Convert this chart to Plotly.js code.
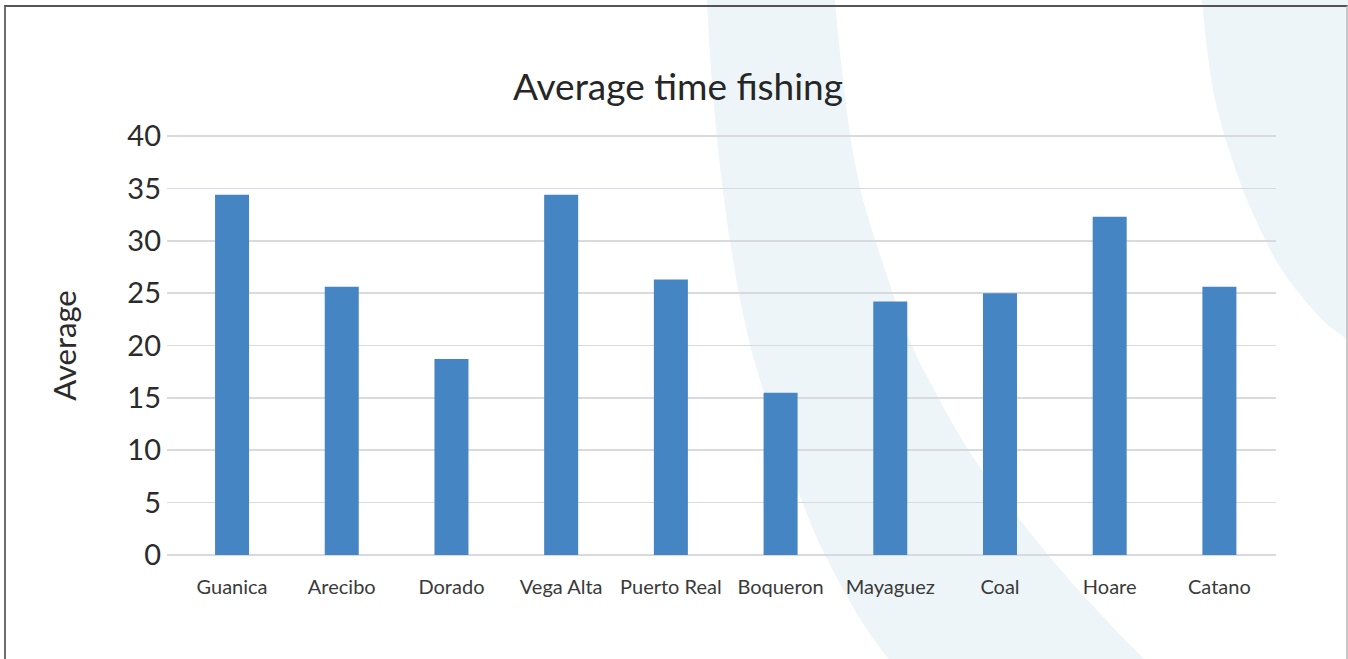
<!DOCTYPE html>
<html>
<head>
<meta charset="utf-8">
<script src="https://cdn.plot.ly/plotly-3.0.1.min.js"></script>
<style>
  html, body { margin: 0; padding: 0; background: #ffffff; }
  #wrap { position: relative; width: 1348px; height: 659px; overflow: hidden; background: #ffffff; }
  #bg { position: absolute; left: 0; top: 0; width: 1348px; height: 659px; }
  #chart { position: absolute; left: 0; top: 0; width: 1348px; height: 659px; }
  #frame { position: absolute; left: 4px; top: 5px; width: 1340px; height: 700px;
           border-top: 2px solid #555555; border-left: 2px solid #6e6e6e; border-right: 2px solid #c8c8c8;
           pointer-events: none; }
</style>
</head>
<body>
<div id="wrap">
  <svg id="bg" width="1348" height="659" xmlns="http://www.w3.org/2000/svg">
    <path d="M707,0 C712,120 730,280 757,370 C775,430 800,500 820,545 C835,575 860,625 889,659 L1144,659 C1100,615 1060,570 1044,550 C1020,520 1000,495 982,470 C960,440 945,410 929,380 C915,355 905,330 895,300 C880,255 870,225 863,200 C857,175 851,145 848,120 C843,80 838,40 835,0 Z" fill="#edf5f8"/>
    <path d="M1202,0 C1205,35 1209,70 1215,100 C1225,140 1235,170 1247,200 C1258,225 1268,248 1280,267 C1297,293 1315,313 1330,327 L1348,340 L1348,0 Z" fill="#edf5f8"/>
  </svg>
  <div id="chart"></div>
  <div id="frame"></div>
</div>
<script>
const categories = ["Guanica", "Arecibo", "Dorado", "Vega Alta", "Puerto Real", "Boqueron", "Mayaguez", "Coal", "Hoare", "Catano"];
const averages = [34.4, 25.6, 18.7, 34.4, 26.3, 15.5, 24.2, 25.0, 32.3, 25.6];
const yTicks = [0, 5, 10, 15, 20, 25, 30, 35, 40];

const FONT = "Lato, 'Open Sans', sans-serif";

const trace = {
  type: "bar",
  x: categories,
  y: averages,
  width: 0.31,
  marker: { color: "#4685c4" },
  hoverinfo: "x+y"
};

const layout = {
  width: 1348,
  height: 659,
  margin: { l: 167, r: 72, t: 135, b: 103, pad: 0 },
  paper_bgcolor: "rgba(0,0,0,0)",
  plot_bgcolor: "rgba(0,0,0,0)",
  showlegend: false,
  title: {
    text: "Average time fishing",
    font: { family: FONT, size: 37, color: "#262626" },
    x: 678 / 1348,
    xref: "container",
    xanchor: "center",
    y: 1 - 87 / 659,
    yref: "container",
    yanchor: "middle"
  },
  xaxis: {
    type: "category",
    range: [-0.593, 9.516],
    showgrid: false,
    zeroline: false,
    showline: false,
    ticks: "",
    ticklabelstandoff: 17,
    tickfont: { family: FONT, size: 20, color: "#3a3a3a" },
    fixedrange: true
  },
  yaxis: {
    range: [-0.1, 40.1],
    tickvals: yTicks,
    ticktext: yTicks.map(String),
    showgrid: true,
    gridcolor: "#d9dadf",
    gridwidth: 1.5,
    zeroline: false,
    showline: false,
    ticks: "",
    ticklabelstandoff: 5,
    tickfont: { family: FONT, size: 29, color: "#2b2b2b" },
    title: {
      text: "Average",
      font: { family: FONT, size: 31, color: "#2b2b2b" },
      standoff: 41
    },
    automargin: false,
    fixedrange: true
  }
};

Plotly.newPlot("chart", [trace], layout, { displayModeBar: false, staticPlot: true });
</script>
</body>
</html>
